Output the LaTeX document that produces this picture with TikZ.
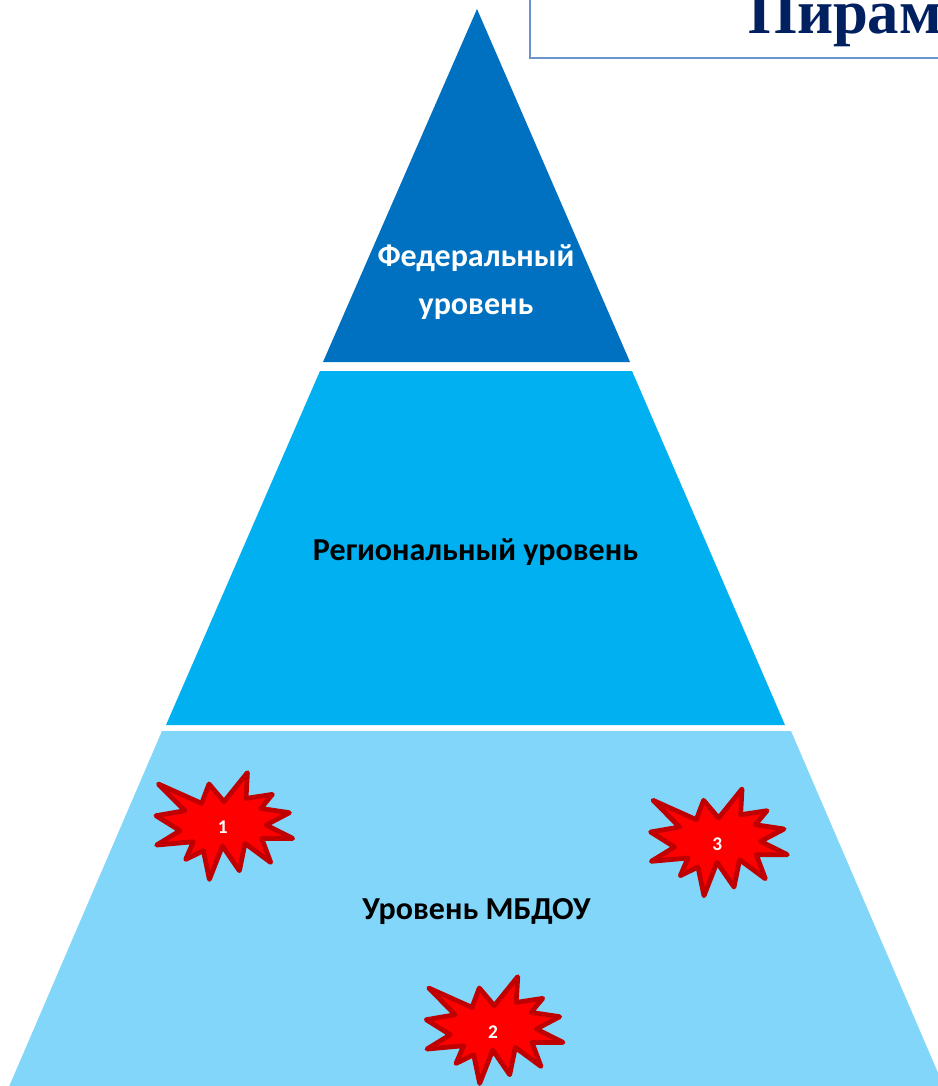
\documentclass[tikz,border=0pt]{standalone}
\usepackage{fontspec}
\setmainfont{Carlito}
\newfontfamily\titlefont{Liberation Serif}
\definecolor{fedblue}{HTML}{0070C0}
\definecolor{regblue}{HTML}{00B0F0}
\definecolor{dooblue}{HTML}{81D6F9}
\definecolor{starred}{HTML}{FF0000}
\definecolor{stardark}{HTML}{C00000}
\definecolor{navy}{HTML}{002060}
\definecolor{boxline}{HTML}{6A94CC}
\tikzset{
  x=0.75pt,y=-0.75pt,
  tier/.style={draw=none},
  levelText/.style={font=\bfseries\fontsize{24}{36}\selectfont,inner sep=0pt,align=center},
  starNum/.style={font=\bfseries\fontsize{14.5}{16}\selectfont,text=white,inner sep=0pt},
  burst/.style={fill=starred,draw=stardark,line width=3.6pt,line join=round},
}
\newcommand{\burstat}[2]{%
  \draw[burst,shift={(#1,#2)}]
   (-64.3,-43.7) -- (-21,-24.3) -- (-13.7,-43.7) -- (1.3,-26) -- (24.7,-55) -- (23.3,-29.3)
   -- (49.7,-33.3) -- (38,-19.3) -- (66.7,-15) -- (43.3,-2.7) -- (70,10.7) -- (39,10.7)
   -- (48,34.7) -- (22.3,15.7) -- (16.7,43) -- (-0.3,18.3) -- (-13.3,51.7) -- (-19.3,23)
   -- (-37,31.7) -- (-29.3,14) -- (-66,17.3) -- (-42.7,3) -- (-66.7,-12) -- (-37.7,-17) -- cycle;}
\begin{document}
\begin{tikzpicture}
\useasboundingbox (0,0) rectangle (938,1086);
\clip (0,0) rectangle (938,1086);
\fill[white] (0,0) rectangle (938,1086);
\draw[boxline,line width=1.5pt] (529.5,-10) -- (529.5,57.5) -- (950,57.5);
\node[anchor=base west,inner sep=0pt,text=navy,font=\titlefont\bfseries\fontsize{47}{50}\selectfont] (title) at (748,33.5) {Пирам};
\fill[fedblue,tier] (477,9) -- (630,362) -- (323,362) -- cycle;
\fill[regblue,tier] (320,371) -- (632,371) -- (785,725) -- (166,725) -- cycle;
\fill[dooblue,tier] (162,731) -- (791,731) -- (948,1096) -- (5,1096) -- cycle;
\node[levelText,text=white,anchor=base] (fed1) at (476,266) {Федеральный};
\node[levelText,text=white,anchor=base] (fed2) at (476,314) {уровень};
\node[levelText,anchor=base] (reg) at (475.5,560) {Региональный уровень};
\node[levelText,anchor=base] (doo) at (476.5,919) {Уровень МБДОУ};
\burstat{222.7}{827.7}
\burstat{717.3}{844}
\burstat{493}{1031.7}
\node[starNum] (s1) at (222.7,827.7) {1};
\node[starNum] (s3) at (717.3,844) {3};
\node[starNum] (s2) at (493,1031.7) {2};
\end{tikzpicture}
\end{document}
